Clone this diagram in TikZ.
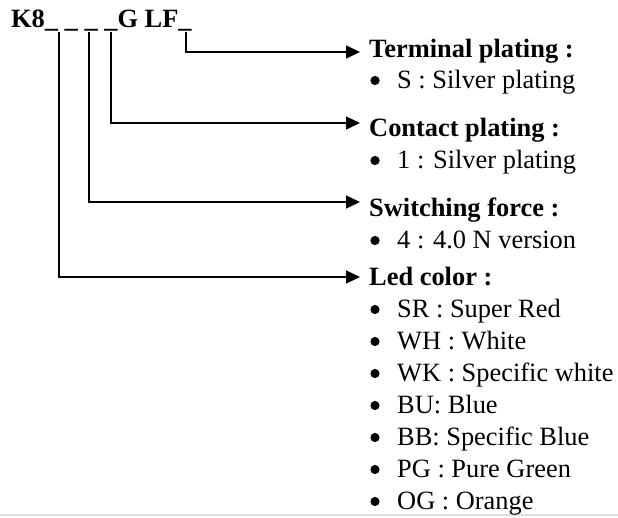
\documentclass[tikz,border=0pt]{standalone}
\usepackage{fontspec}
\setmainfont{Liberation Serif}
\usetikzlibrary{arrows.meta}
\begin{document}
\begin{tikzpicture}[x=1pt,y=-1pt,
  conn/.style={line width=1.5pt, -{Triangle[length=14pt,width=13pt]}},
  head/.style={anchor=base west, inner sep=0pt, font=\fontsize{26.4}{30}\selectfont\bfseries},
  item/.style={anchor=base west, inner sep=0pt, font=\fontsize{26.4}{30}\selectfont}
]
\useasboundingbox (0,0) rectangle (618,517);
\fill[white] (0,0) rectangle (618,517);
\draw[black!12, line width=1.2pt] (0,515) -- (618,515);

\node[head] (code) at (11,27) {K8\_ \_ \_ \_G LF\_};

\coordinate (s4) at (186,32);
\coordinate (s3) at (111,32);
\coordinate (s2) at (89,32);
\coordinate (s1) at (59,32);
\coordinate (t4) at (360,52);
\coordinate (t3) at (360,123);
\coordinate (t2) at (360,202);
\coordinate (t1) at (360,277);

\draw[conn] (s4) |- (t4);
\draw[conn] (s3) |- (t3);
\draw[conn] (s2) |- (t2);
\draw[conn] (s1) |- (t1);

\node[head] (hterm) at (369,57) {Terminal plating :};
\node[item] (iS) at (397,88) {S : Silver plating};

\node[head] (hcont) at (369,136) {Contact plating :};
\node[item] (i1) at (397,168) {1 : Silver plating};

\node[head] (hswit) at (369,216) {Switching force :};
\node[item] (i4) at (397,248) {4 : 4.0 N version};

\node[head] (hled) at (369,285) {Led color :};
\node[item] (iSR) at (397,317) {SR : Super Red};
\node[item] (iWH) at (397,349) {WH : White};
\node[item] (iWK) at (397,381) {WK : Specific white};
\node[item] (iBU) at (397,413) {BU: Blue};
\node[item] (iBB) at (397,445) {BB: Specific Blue};
\node[item] (iPG) at (397,477) {PG : Pure Green};
\node[item] (iOG) at (397,509) {OG : Orange};

\foreach \n in {iS,i1,i4,iSR,iWH,iWK,iBU,iBB,iPG,iOG}
  \fill ([shift={(-22pt,7.5pt)}]\n.base west) circle (4.6pt);
\end{tikzpicture}
\end{document}
